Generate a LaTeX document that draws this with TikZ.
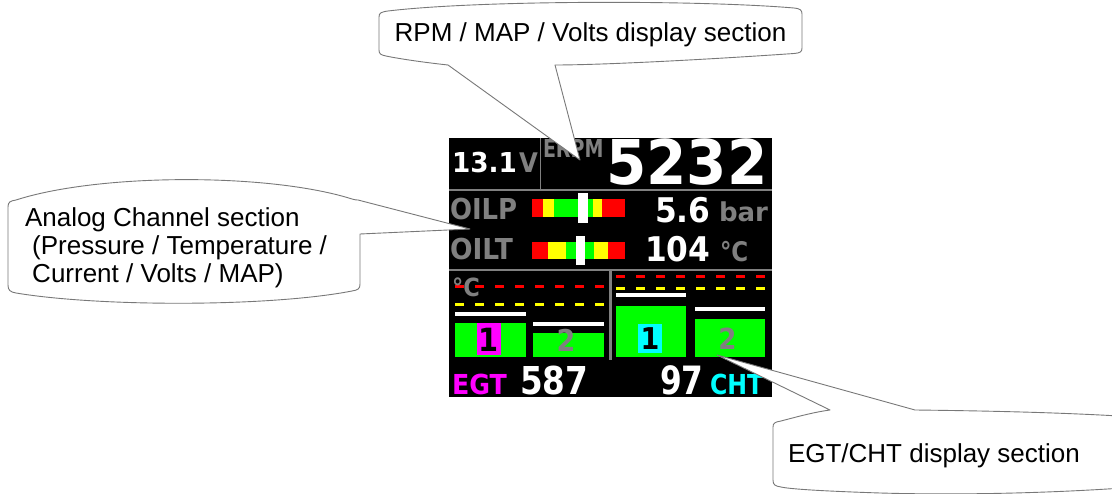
\documentclass[tikz,border=0pt]{standalone}
\usepackage{fontspec}
\setmainfont{Liberation Sans}
\newfontfamily\dvfont{DejaVu Sans}
\usepackage{graphicx}
\definecolor{lcdgreen}{RGB}{0,255,0}
\definecolor{lcdred}{RGB}{255,0,0}
\definecolor{lcdyellow}{RGB}{255,255,0}
\definecolor{lcdmag}{RGB}{255,0,255}
\definecolor{lcdcyan}{RGB}{0,255,255}
\definecolor{lcdgray}{RGB}{128,128,128}
\definecolor{callgray}{RGB}{120,120,120}
\newcommand\dfont[1]{\dvfont\bfseries\fontsize{#1}{#1}\selectfont}
\begin{document}
\begin{tikzpicture}[x=1pt,y=-1pt,
  dtext/.style={inner sep=0pt, outer sep=0pt, anchor=base west},
  dctext/.style={inner sep=0pt, outer sep=0pt, anchor=base},
  ctext/.style={inner sep=0pt, outer sep=0pt, anchor=base west, font=\fontsize{26}{30}\selectfont, text=black},
  sepline/.style={draw=lcdgray, line width=1.5pt},
  callout/.style={draw=callgray, line width=0.9pt, fill=white, line join=round},
  dashred/.style={draw=lcdred, line width=3pt, dash pattern=on 8.5pt off 11.5pt},
  dashyel/.style={draw=lcdyellow, line width=3pt, dash pattern=on 8.5pt off 11.5pt}]
\useasboundingbox (0,0) rectangle (1112,494);
\fill[white] (0,0) rectangle (1112,494);
\begin{scope}
\clip (0,0) rectangle (1112,494);
% display
\fill[black] (449,138) rectangle (772,397);
% separators
\draw[sepline] (449,190) -- (772,190);
\draw[sepline] (540.7,138) -- (540.7,190);
\draw[sepline] (449,270) -- (772,270);
\draw[draw=lcdgray, line width=3pt] (610,270) -- (610,360);
% top row
\node[dtext, text=white, font=\dfont{27.4}] (t131) at (452,173) {\scalebox{0.96}[1]{13.1}};
\node[dtext, text=lcdgray, font=\dfont{27}] (tV) at (519,173) {\scalebox{0.9}[1]{V}};
\node[dtext, text=lcdgray, font=\dfont{24.7}] (tERPM) at (543,158) {\scalebox{0.77}[1]{ERPM}};
\node[dtext, text=white, font=\dfont{61.7}] (t5232) at (606,185) {\scalebox{0.94}[1]{5232}};
% OILP bar
\fill[lcdred] (531.7,199.3) rectangle (543.3,216.7);
\fill[lcdyellow] (543.3,199.3) rectangle (554.3,216.7);
\fill[lcdgreen] (554.3,199.3) rectangle (593.3,216.7);
\fill[lcdyellow] (593.3,199.3) rectangle (602.3,216.7);
\fill[lcdred] (602.3,199.3) rectangle (625,216.7);
\fill[white] (577.7,193.3) rectangle (587.7,222.7);
% OILT bar
\fill[lcdred] (531.7,241.7) rectangle (547.7,259.3);
\fill[lcdyellow] (547.7,241.7) rectangle (565.7,259.3);
\fill[lcdgreen] (565.7,241.7) rectangle (594,259.3);
\fill[lcdyellow] (594,241.7) rectangle (608.3,259.3);
\fill[lcdred] (608.3,241.7) rectangle (625,259.3);
\fill[white] (575.7,236) rectangle (585,265);
\node[dtext, text=lcdgray, font=\dfont{28.8}] (tOILP) at (450,220) {\scalebox{0.9}[1]{OILP}};
\node[dtext, text=white, font=\dfont{34}] (t56) at (655,223) {\scalebox{0.92}[1]{5.6}};
\node[dtext, text=lcdgray, font=\dfont{26}] (tbar) at (719,222) {bar};
\node[dtext, text=lcdgray, font=\dfont{28.8}] (tOILT) at (450,260) {\scalebox{0.92}[1]{OILT}};
\node[dtext, text=white, font=\dfont{34}] (t104) at (645,262) {\scalebox{0.92}[1]{104}};
\node[dtext, text=lcdgray, font=\dfont{27}] (tdegC) at (720,262) {\scalebox{0.85}[1]{°C}};
% EGT panel
\draw[dashred] (455,286.7) -- (604,286.7);
\draw[dashyel] (455,305) -- (604,305);
\fill[white] (455,311.7) rectangle (526,315.7);
\fill[white] (533,321.7) rectangle (604,325.7);
\fill[lcdgreen] (455,323) rectangle (526,357);
\fill[lcdgreen] (533,333) rectangle (604,357);
\fill[lcdmag] (477,323) rectangle (501,355);
\node[dtext, text=lcdgray, font=\dfont{25}] (tdegC2) at (452,297) {\scalebox{0.9}[1]{°C}};
\node[dctext, text=black, font=\dfont{32}] (t1egt) at (489,352) {\scalebox{0.9}[1]{1}};
\node[dctext, text=lcdgray, font=\dfont{30}] (t2egt) at (566,352) {\scalebox{0.9}[1]{2}};
% CHT panel
\draw[dashred] (616,276.7) -- (765,276.7);
\draw[dashyel] (616,288.3) -- (765,288.3);
\fill[white] (616,293) rectangle (686,297);
\fill[white] (695,307) rectangle (765,311);
\fill[lcdgreen] (616,305.7) rectangle (686,357.3);
\fill[lcdgreen] (695,319) rectangle (765,357);
\fill[lcdcyan] (638,324) rectangle (662,353);
\node[dctext, text=black, font=\dfont{30}] (t1cht) at (650,350) {\scalebox{0.9}[1]{1}};
\node[dctext, text=lcdgray, font=\dfont{29}] (t2cht) at (727.5,350) {\scalebox{0.9}[1]{2}};
% bottom row
\node[dtext, text=lcdmag, font=\dfont{27.5}] (tEGT) at (452,395) {\scalebox{0.92}[1]{EGT}};
\node[dtext, text=white, font=\dfont{38.4}] (t587) at (520,395) {\scalebox{0.85}[1]{587}};
\node[dtext, text=white, font=\dfont{39}] (t97) at (660,395) {\scalebox{0.8}[1]{97}};
\node[dtext, text=lcdcyan, font=\dfont{27.5}] (tCHT) at (710,395) {\scalebox{0.86}[1]{CHT}};
% callout: top
\path[callout] (379,50) -- (379,17)
  .. controls (379,13) and (381,12) .. (388,11)
  .. controls (480,0) and (700,0) .. (794,8)
  .. controls (800,8.6) and (802,10) .. (802,14)
  -- (802,48)
  .. controls (802,52) and (800,53) .. (794,53.5)
  .. controls (700,60) and (600,65) .. (555,65)
  -- (580,160) -- (448,65)
  .. controls (420,62) and (395,58) .. (386,56)
  .. controls (381,55) and (379,54) .. (379,50) -- cycle;
\node[ctext, anchor=base] (ctop) at (590.5,42) {RPM / MAP / Volts display section};
% callout: left
\path[callout] (8,285) -- (8,207)
  .. controls (8,202) and (10,201) .. (16,200)
  .. controls (100,173) and (270,173) .. (352,199)
  .. controls (355,200) and (357,200) .. (358,200)
  -- (470,229) -- (360,234) -- (360,284)
  .. controls (360,289) and (358,290) .. (352,291)
  .. controls (270,307) and (100,307) .. (16,293)
  .. controls (10,292) and (8,290) .. (8,285) -- cycle;
\node[ctext] (cl1) at (25,227) {Analog Channel section};
\node[ctext] (cl2) at (25,255) {\hspace*{0.278em}(Pressure / Temperature /};
\node[ctext] (cl3) at (25,283) {\hspace*{0.278em}Current / Volts / MAP)};
% callout: bottom right
\path[callout] (773,480) -- (773,427)
  .. controls (773,423) and (775,422) .. (781,421)
  .. controls (800,416) and (815,412) .. (830,410)
  -- (717,355) -- (915,410)
  .. controls (1000,411) and (1080,413) .. (1150,418)
  -- (1150,486)
  .. controls (1050,494) and (950,495) .. (880,493)
  .. controls (820,491) and (790,489) .. (781,487)
  .. controls (775,486) and (773,485) .. (773,480) -- cycle;
\node[ctext] (cbr) at (788,462) {EGT/CHT display section};
\end{scope}
\end{tikzpicture}
\end{document}
